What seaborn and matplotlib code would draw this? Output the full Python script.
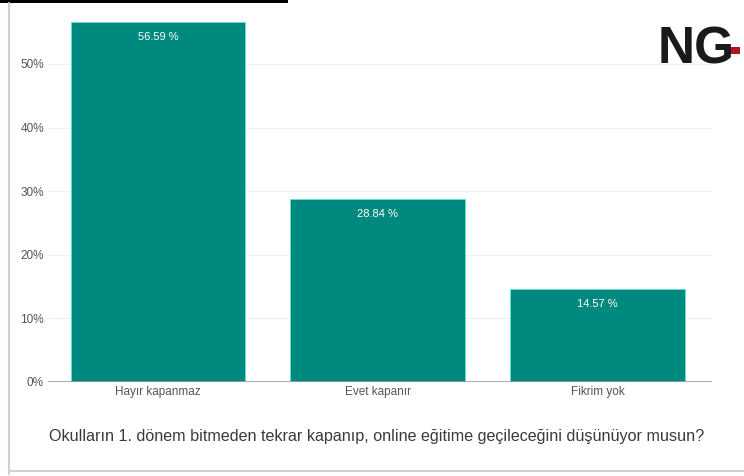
import matplotlib
matplotlib.use("Agg")
import matplotlib.pyplot as plt
import seaborn as sns
import pandas as pd
from matplotlib.patches import Rectangle

categories = ["Hayır kapanmaz", "Evet kapanır", "Fikrim yok"]
values = [56.59, 28.84, 14.57]
yticks = [0, 10, 20, 30, 40, 50]
ytick_labels = ["0%", "10%", "20%", "30%", "40%", "50%"]
title = "Okulların 1. dönem bitmeden tekrar kapanıp, online eğitime geçileceğini düşünüyor musun?"

sns.set_theme(style="white")
plt.rcParams["font.family"] = ["Liberation Sans", "DejaVu Sans"]

df = pd.DataFrame({"cat": categories, "val": values})

fig = plt.figure(figsize=(7.44, 4.76), dpi=100)
ax = fig.add_axes([48/744, 1 - 382/476, (712-48)/744, (382-6.7)/476])

for t in yticks[1:]:
    ax.axhline(t, color="#efefef", lw=0.8, zorder=0)

sns.barplot(data=df, x="cat", y="val", color="#00897F", saturation=1,
            width=0.795, edgecolor="#5fe0d8", linewidth=0.6, ax=ax, zorder=2)

ax.axhline(0, color="#9a9a9a", lw=1.2, zorder=3)

for i, v in enumerate(values):
    ax.text(i, v - 1.6, f"{v:.2f} %", ha="center", va="top", color="white",
            fontsize=8, zorder=4)

ax.set_xlim(-0.5, 2.52)
ax.set_ylim(0, 59)
ax.set_yticks(yticks)
ax.set_yticklabels(ytick_labels)
ax.set_xlabel("")
ax.set_ylabel("")
ax.tick_params(axis="both", length=0, labelsize=8.5, colors="#555555")
ax.tick_params(axis="y", pad=3)
ax.tick_params(axis="x", pad=3)
for s in ax.spines.values():
    s.set_visible(False)

fig.text(377/744, 1 - 437/476, title, ha="center", va="center",
         fontsize=11.6, color="#3a3a3a")

# frame lines and top bar
fig.add_artist(Rectangle((0, 1 - 3/476), 288/744, 3/476, transform=fig.transFigure,
                         color="black", lw=0))
fig.add_artist(plt.Line2D([9/744, 9/744], [0.005, 1 - 3/476], transform=fig.transFigure,
                          color="#d0d0d0", lw=1.5))
fig.add_artist(plt.Line2D([9/744, 1], [1 - 471/476, 1 - 471/476], transform=fig.transFigure,
                          color="#d0d0d0", lw=1.5))

# NG logo
fig.text(658/744, 1 - 50/476, "NG", ha="left", va="center", fontsize=37,
         fontweight="bold", color="#1a1a1a")
fig.add_artist(Rectangle((726/744, 1 - 54/476), 14/744, 7/476, transform=fig.transFigure,
                         color="#b0141c", lw=0))

fig.savefig("out.png", dpi=100)
